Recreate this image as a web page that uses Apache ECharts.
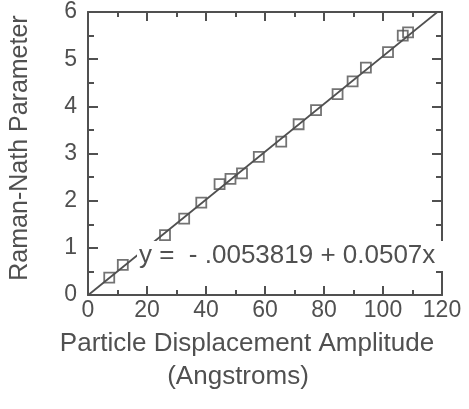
<!DOCTYPE html>
<html><head><meta charset="utf-8">
<script src="https://cdn.jsdelivr.net/npm/echarts@6/dist/echarts.min.js"></script>
<style>html,body{margin:0;padding:0;background:#fff}#c{width:469px;height:409px}</style>
</head><body><div id="c"></div>
<script>
const dispX = [7.2, 11.8, 26.1, 32.6, 38.4, 44.6, 48.3, 52.2, 57.9, 65.5, 71.4, 77.3, 84.6, 89.7, 94.2, 101.7, 106.7, 108.5];
const ramanY = [0.37, 0.64, 1.27, 1.62, 1.96, 2.35, 2.46, 2.58, 2.93, 3.25, 3.62, 3.92, 4.26, 4.53, 4.82, 5.15, 5.50, 5.57];
const fitX = [0, 120];
const fitY = [-0.0053819, 6.0786];
const equation = 'y =  - .0053819 + 0.0507x';
const xTitle = 'Particle Displacement Amplitude';
const xSubTitle = '(Angstroms)';
const yTitle = 'Raman-Nath Parameter';

const C = '#505050';
const F = '"Liberation Sans", Arial, sans-serif';
const chart = echarts.init(document.getElementById('c'), null, {renderer: 'canvas'});

function xAx(pos, showLabel) {
  return {
    type: 'value', position: pos, min: 0, max: 120, interval: 20,
    axisLine: {show: true, onZero: false, lineStyle: {color: C, width: 2}},
    axisTick: {show: true, inside: true, length: 9, lineStyle: {color: C, width: 2}},
    minorTick: {show: true, splitNumber: 2, length: 5, lineStyle: {color: C, width: 2}},
    splitLine: {show: false},
    axisLabel: {show: showLabel, color: C, fontFamily: F, fontSize: 23, margin: 4}
  };
}
function yAx(pos, showLabel) {
  return {
    type: 'value', position: pos, min: 0, max: 6, interval: 1,
    axisLine: {show: true, onZero: false, lineStyle: {color: C, width: 2}},
    axisTick: {show: true, inside: true, length: 10, lineStyle: {color: C, width: 2}},
    minorTick: {show: true, splitNumber: 2, length: 6, lineStyle: {color: C, width: 2}},
    splitLine: {show: false},
    axisLabel: {show: showLabel, color: C, fontFamily: F, fontSize: 23, margin: 11}
  };
}

chart.setOption({
  animation: false,
  backgroundColor: '#fff',
  grid: {left: 88, right: 27, top: 12, bottom: 114},
  xAxis: [xAx('bottom', true), xAx('top', false)],
  yAxis: [yAx('left', true), yAx('right', false)],
  series: [
    {
      type: 'line', clip: true, symbol: 'none', z: 2,
      data: fitX.map((x, i) => [x, fitY[i]]),
      lineStyle: {color: C, width: 1.8}
    },
    {
      type: 'scatter', z: 3,
      symbol: 'rect', symbolSize: 10,
      data: dispX.map((x, i) => [x, ramanY[i]]),
      itemStyle: {color: 'rgba(255,255,255,0)', borderColor: C, borderWidth: 1.8}
    }
  ],
  graphic: [
    {type: 'text', z: 10, x: 137, y: 256,
      style: {text: equation, font: '26px ' + F, fill: C, textVerticalAlign: 'middle', backgroundColor: '#fff', padding: [2, 10, 2, 2]}},
    {type: 'text', z: 10, x: 247, y: 344,
      style: {text: xTitle, font: '26px ' + F, fill: C, textAlign: 'center', textVerticalAlign: 'middle'}},
    {type: 'text', z: 10, x: 238, y: 377,
      style: {text: xSubTitle, font: '26px ' + F, fill: C, textAlign: 'center', textVerticalAlign: 'middle'}},
    {type: 'text', z: 10, x: 20, y: 148, rotation: Math.PI / 2,
      style: {text: yTitle, font: '25px ' + F, fill: C, textAlign: 'center', textVerticalAlign: 'middle'}}
  ]
});
</script></body></html>
